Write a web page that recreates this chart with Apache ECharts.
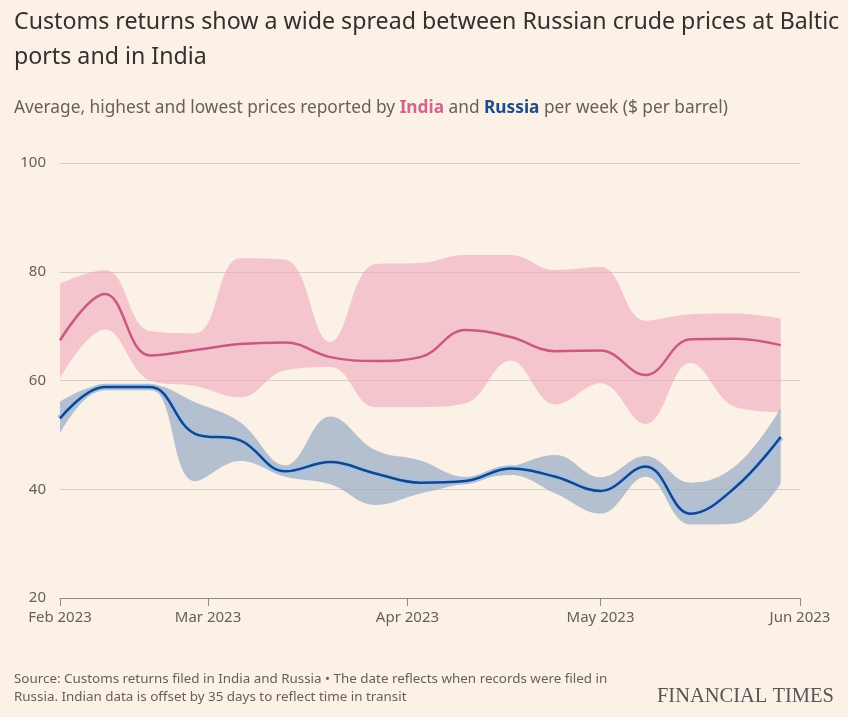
<!DOCTYPE html>
<html>
<head>
<meta charset="utf-8">
<style>
  html, body { margin: 0; padding: 0; background: #fcf1e6; }
  #chart { width: 848px; height: 717px; }
</style>
<script src="https://cdn.jsdelivr.net/npm/echarts@6/dist/echarts.min.js"></script>
</head>
<body>
<div id="chart"></div>
<script>
// weekly dates (records filed in Russia)
var weeks = ['2023-02-06', '2023-02-13', '2023-02-20', '2023-02-27', '2023-03-06', '2023-03-13',
  '2023-03-20', '2023-03-27', '2023-04-03', '2023-04-10', '2023-04-17', '2023-04-24',
  '2023-05-01', '2023-05-08', '2023-05-15', '2023-05-22', '2023-05-29'];

// India, $ per barrel
var indiaAvg  = [67.4, 75.9, 64.6, 65.6, 66.7, 67.0, 64.3, 63.6, 64.3, 69.3, 68.0, 65.4, 65.5, 61.0, 67.6, 67.7, 66.5];
var indiaHigh = [77.8, 80.3, 69.1, 68.7, 82.5, 82.2, 67.1, 81.4, 81.6, 83.1, 83.1, 80.3, 80.9, 71.0, 72.2, 72.3, 71.4];
var indiaLow  = [60.4, 69.4, 60.0, 59.0, 56.9, 61.9, 62.5, 55.1, 55.1, 55.8, 63.7, 55.6, 59.5, 52.0, 63.2, 55.1, 54.2];

// Russia, $ per barrel
var russiaAvg  = [53.0, 58.8, 58.8, 50.2, 49.0, 43.3, 45.0, 42.9, 41.2, 41.5, 43.8, 42.3, 39.7, 44.2, 35.5, 40.4, 49.6];
var russiaHigh = [56.1, 59.2, 59.2, 56.0, 52.3, 44.4, 53.4, 47.2, 45.3, 42.3, 44.1, 46.3, 42.2, 46.1, 41.2, 44.3, 54.9];
var russiaLow  = [50.3, 58.5, 58.5, 41.5, 45.2, 42.3, 40.9, 37.1, 39.2, 41.1, 42.6, 39.2, 35.5, 42.3, 33.5, 33.7, 41.0];

var axisStart = '2023-02-06';
var axisEnd = '2023-06-01';
var monthTicks = ['2023-02-06', '2023-03-01', '2023-04-01', '2023-05-01', '2023-06-01'];
var yTicks = [20, 40, 60, 80, 100];
var monthNames = ['Jan', 'Feb', 'Mar', 'Apr', 'May', 'Jun', 'Jul', 'Aug', 'Sep', 'Oct', 'Nov', 'Dec'];

var font = 'Noto Sans';
var smoothness = 0.4;

function ts(s) {
  var p = s.split('-');
  return Date.UTC(+p[0], +p[1] - 1, +p[2]);
}
// value first, date second, so that stacking sums the price column
function rows(vals) {
  return weeks.map(function (d, i) { return [vals[i], ts(d)]; });
}
function spread(hi, lo) {
  return weeks.map(function (d, i) { return [+(hi[i] - lo[i]).toFixed(2), ts(d)]; });
}

var dom = document.getElementById('chart');
var myChart = echarts.init(dom);

var enc = { x: 1, y: 0 };

var option = {
  backgroundColor: '#fcf1e6',
  animation: false,
  title: [
    {
      text: 'Customs returns show a wide spread between Russian crude prices at Baltic\nports and in India',
      left: 9, top: 0,
      textStyle: { fontFamily: font, fontSize: 23.2, lineHeight: 35, fontWeight: 'normal', color: '#33302e' }
    },
    {
      text: 'Average, highest and lowest prices reported by {i|India} and {r|Russia} per week ($ per barrel)',
      left: 9, top: 92,
      textStyle: {
        fontFamily: font, fontSize: 17.3, lineHeight: 22, fontWeight: 'normal', color: '#66605c',
        rich: {
          i: { fontFamily: font, fontSize: 17.3, color: '#d3648f', fontWeight: 'bold' },
          r: { fontFamily: font, fontSize: 17.3, color: '#1e4d8c', fontWeight: 'bold' }
        }
      }
    },
    {
      text: 'Source: Customs returns filed in India and Russia \u2022 The date reflects when records were filed in\nRussia. Indian data is offset by 35 days to reflect time in transit',
      left: 9, top: 665,
      textStyle: { fontFamily: font, fontSize: 13.4, lineHeight: 18, fontWeight: 'normal', color: '#66605c' }
    },
    {
      text: 'FINANCIAL TIMES',
      right: 9, top: 681,
      textStyle: { fontFamily: 'Liberation Serif', fontSize: 20.5, fontWeight: 'normal', color: '#5a5552' }
    }
  ],
  grid: { left: 60, right: 48, top: 163, bottom: 119 },
  xAxis: {
    type: 'value',
    min: ts(axisStart),
    max: ts(axisEnd),
    axisLine: { lineStyle: { color: '#8f8a85', width: 1 } },
    axisTick: { show: true, length: 8, customValues: monthTicks.map(ts), lineStyle: { color: '#8f8a85' } },
    axisLabel: {
      customValues: monthTicks.map(ts),
      margin: 12,
      fontFamily: font, fontSize: 15, color: '#66605c',
      formatter: function (v) {
        var d = new Date(v);
        return monthNames[d.getUTCMonth()] + ' ' + d.getUTCFullYear();
      }
    },
    splitLine: { show: false }
  },
  yAxis: {
    type: 'value',
    min: yTicks[0],
    max: yTicks[yTicks.length - 1],
    interval: 20,
    axisLine: { show: false },
    axisTick: { show: false },
    axisLabel: { margin: 14, fontFamily: font, fontSize: 15, color: '#66605c' },
    splitLine: { lineStyle: { color: '#d8cec4', width: 1 } }
  },
  series: [
    {
      name: 'India low', type: 'line', stack: 'india', data: rows(indiaLow), encode: enc,
      smooth: smoothness, symbol: 'none', lineStyle: { opacity: 0 }, silent: true
    },
    {
      name: 'India range', type: 'line', stack: 'india', data: spread(indiaHigh, indiaLow), encode: enc,
      smooth: smoothness, symbol: 'none', lineStyle: { opacity: 0 },
      areaStyle: { color: '#f0a8bc', opacity: 0.6 }, silent: true
    },
    {
      name: 'Russia low', type: 'line', stack: 'russia', data: rows(russiaLow), encode: enc,
      smooth: smoothness, symbol: 'none', lineStyle: { opacity: 0 }, silent: true
    },
    {
      name: 'Russia range', type: 'line', stack: 'russia', data: spread(russiaHigh, russiaLow), encode: enc,
      smooth: smoothness, symbol: 'none', lineStyle: { opacity: 0 },
      areaStyle: { color: '#95abc4', opacity: 0.7 }, silent: true
    },
    {
      name: 'India', type: 'line', data: rows(indiaAvg), encode: enc,
      smooth: smoothness, symbol: 'none', lineStyle: { color: '#c95882', width: 2.5 }
    },
    {
      name: 'Russia halo', type: 'line', data: rows(russiaAvg), encode: enc,
      smooth: smoothness, symbol: 'none', lineStyle: { color: '#9fc2ec', width: 6.5 }, silent: true
    },
    {
      name: 'Russia', type: 'line', data: rows(russiaAvg), encode: enc,
      smooth: smoothness, symbol: 'none', lineStyle: { color: '#1a4480', width: 2.5 }
    }
  ]
};

if (option && typeof option === 'object') {
  myChart.setOption(option, true);
}
</script>
</body>
</html>
